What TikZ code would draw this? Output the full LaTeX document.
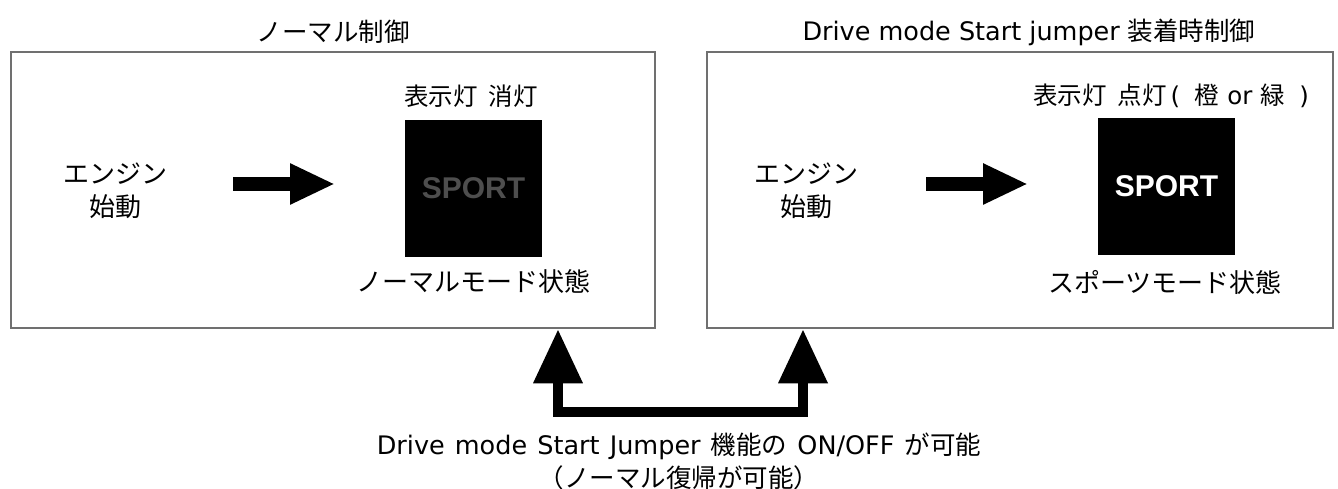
\documentclass[tikz,border=0pt]{standalone}
\usepackage{fontspec}
\setmainfont{DejaVu Sans}
\newfontfamily\jp{Noto Sans CJK JP}
\newfontfamily\lat[WordSpace=1.25]{DejaVu Sans}
\newfontfamily\arialf{Liberation Sans}
\usetikzlibrary{arrows.meta}
\definecolor{boxgray}{HTML}{707070}
\definecolor{dimtext}{HTML}{4E4E4E}
\begin{document}
\begin{tikzpicture}[x=1pt,y=-1pt,
  box/.style={draw=boxgray, line width=2.5pt, rectangle, inner sep=0pt},
  ttl/.style={font=\fontsize{25.5}{30}\selectfont, inner sep=0pt, anchor=center},
  lbl/.style={font=\fontsize{26}{33}\selectfont, align=center, inner sep=0pt},
  hdr/.style={font=\fontsize{24.5}{30}\selectfont, align=center, inner sep=0pt},
  lamp/.style={fill=black, minimum width=137pt, minimum height=137pt, inner sep=0pt, font=\arialf\bfseries\fontsize{30}{30}\selectfont},
  fat/.style={line width=14pt, -{Triangle[length=45pt,width=38pt]}},
  fatu/.style={line width=10pt, line join=miter, {Triangle[length=54pt,width=47pt]}-{Triangle[length=54pt,width=47pt]}},
  bottomtext/.style={font=\lat\fontsize{25.5}{33}\selectfont, align=center, inner sep=0pt}
]
\useasboundingbox (0,0) rectangle (1338,489);
% boxes
\node[box, minimum width=644pt, minimum height=276pt] (lbox) at (333,190) {};
\node[box, minimum width=626pt, minimum height=276pt] (rbox) at (1020,190) {};
% titles
\node[ttl] (ltitle) at (333,32) {\jp ノーマル制御};
\node[ttl] (rtitle) at (1029,32) {Drive mode Start jumper {\jp 装着時制御}};
% left content
\node[lbl] (leng) at (115,191) {{\jp エンジン}\\{\jp 始動}};
\node[lamp, text=dimtext] (llamp) at (473.5,188.5) {SPORT};
\node[hdr] (llamptop) at (471,96) {{\jp 表示灯}\hspace{0.45em}{\jp 消灯}};
\node[lbl] (lstate) at (473,282) {{\jp ノーマルモード状態}};
\coordinate (la1) at (233,184);
\coordinate (la2) at (335,184);
\draw[fat] (la1) -- (la2);
% right content
\node[lbl] (reng) at (806,191) {{\jp エンジン}\\{\jp 始動}};
\node[lamp, text=white] (rlamp) at (1166.5,186.5) {SPORT};
\node[hdr] (rlamptop) at (1171,96) {{\jp 表示灯}\hspace{0.45em}{\jp 点灯}\,(\hspace{0.6em}{\jp 橙} or {\jp 緑}\hspace{0.6em})};
\node[lbl] (rstate) at (1165,282) {{\jp スポーツモード状態}};
\coordinate (ra1) at (926,184);
\coordinate (ra2) at (1028,184);
\draw[fat] (ra1) -- (ra2);
% bottom switch arrow
\coordinate (ltip) at ([xshift=225pt]lbox.south);
\coordinate (rtip) at ([xshift=-217pt]rbox.south);
\draw[fatu] (ltip) -- ++(0,83) -| (rtip);
\node[bottomtext] (note) at (679,461) {Drive mode Start Jumper {\jp 機能の} ON/OFF {\jp が可能}\\{\jp （ノーマル復帰が可能）}};
\end{tikzpicture}
\end{document}
